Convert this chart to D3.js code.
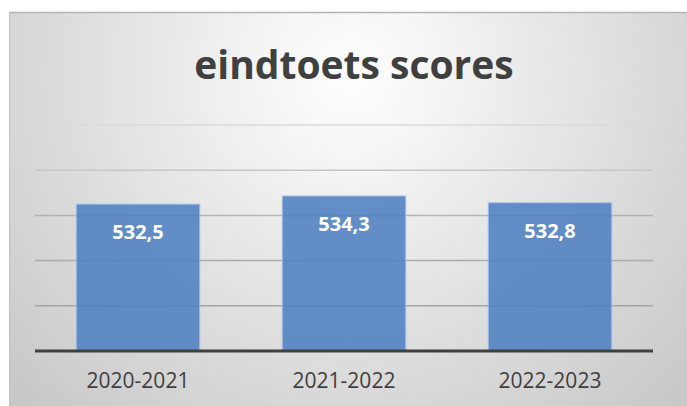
<!DOCTYPE html>
<html>
<head>
<meta charset="utf-8">
<script src="https://cdn.jsdelivr.net/npm/d3@7"></script>
<style>
  body { margin: 0; background: #fff; }
  svg { display: block; }
</style>
</head>
<body>
<div id="wrapper"></div>
<script>
// data
const years = ["2020-2021", "2021-2022", "2022-2023"];
const scores = [532.5, 534.3, 532.8];
const yTicks = [500, 510, 520, 530, 540, 550];

function drawChart() {
  const width = 687, height = 406;
  const margin = { top: 125, right: 34, bottom: 55, left: 35 };

  const svg = d3.select("#wrapper").append("svg")
    .attr("width", width)
    .attr("height", height);

  // background with radial gradient
  const defs = svg.append("defs");
  const bg = defs.append("radialGradient")
    .attr("id", "bg")
    .attr("gradientUnits", "userSpaceOnUse")
    .attr("cx", 350).attr("cy", 75).attr("r", 460);
  bg.append("stop").attr("offset", "0%").attr("stop-color", "#ffffff");
  bg.append("stop").attr("offset", "100%").attr("stop-color", "#c8c8c8");

  svg.append("rect")
    .attr("x", 9).attr("y", 12)
    .attr("width", width - 9).attr("height", height - 12)
    .attr("fill", "url(#bg)");
  svg.append("line")
    .attr("x1", 9).attr("x2", width)
    .attr("y1", 12.5).attr("y2", 12.5)
    .attr("stroke", "#b4b4b4").attr("stroke-width", 1.5);
  svg.append("line")
    .attr("x1", 9.5).attr("x2", 9.5)
    .attr("y1", 12).attr("y2", height)
    .attr("stroke", "#c0c0c0").attr("stroke-width", 1);

  const x = d3.scaleBand()
    .domain(years)
    .range([margin.left, width - margin.right])
    .paddingInner(0.4)
    .paddingOuter(0.2);

  const y = d3.scaleLinear()
    .domain([500, 550])
    .range([height - margin.bottom, margin.top]);

  const gridColor = d3.scaleLinear()
    .domain([550, 530, 500])
    .range(["#dadada", "#b4b4b4", "#9a9a9a"]);

  // gridlines
  svg.append("g")
    .selectAll("line")
    .data(yTicks.filter(d => d > 500))
    .join("line")
    .attr("x1", margin.left)
    .attr("x2", width - margin.right)
    .attr("y1", d => y(d))
    .attr("y2", d => y(d))
    .attr("stroke", d => gridColor(d))
    .attr("stroke-width", 1.5);

  // bars
  svg.append("g")
    .selectAll("rect")
    .data(scores)
    .join("rect")
    .attr("x", (d, i) => x(years[i]))
    .attr("y", d => y(d))
    .attr("width", x.bandwidth())
    .attr("height", d => y(500) - y(d))
    .attr("fill", "#4f80c0")
    .attr("fill-opacity", 0.88)
    .attr("stroke", "#a8c3e6")
    .attr("stroke-width", 1);

  // baseline
  svg.append("line")
    .attr("x1", margin.left)
    .attr("x2", width - margin.right)
    .attr("y1", y(500))
    .attr("y2", y(500))
    .attr("stroke", "#404040")
    .attr("stroke-width", 3);

  // value labels
  svg.append("g")
    .selectAll("text")
    .data(scores)
    .join("text")
    .attr("x", (d, i) => x(years[i]) + x.bandwidth() / 2)
    .attr("y", d => y(d) + 35)
    .attr("text-anchor", "middle")
    .attr("font-family", "'Open Sans', sans-serif")
    .attr("font-weight", "bold")
    .attr("font-size", 20)
    .attr("fill", "#ffffff")
    .text(d => d3.format(".1f")(d).replace(".", ","));

  // category labels
  svg.append("g")
    .selectAll("text")
    .data(years)
    .join("text")
    .attr("x", d => x(d) + x.bandwidth() / 2)
    .attr("y", 388)
    .attr("text-anchor", "middle")
    .attr("font-family", "'Open Sans', sans-serif")
    .attr("font-size", 21)
    .attr("fill", "#404040")
    .text(d => d);

  // title
  svg.append("text")
    .attr("x", 354)
    .attr("y", 79)
    .attr("text-anchor", "middle")
    .attr("font-family", "'Open Sans', sans-serif")
    .attr("font-weight", "bold")
    .attr("font-size", 39)
    .attr("fill", "#404040")
    .text("eindtoets scores");
}

drawChart();
</script>
</body>
</html>
